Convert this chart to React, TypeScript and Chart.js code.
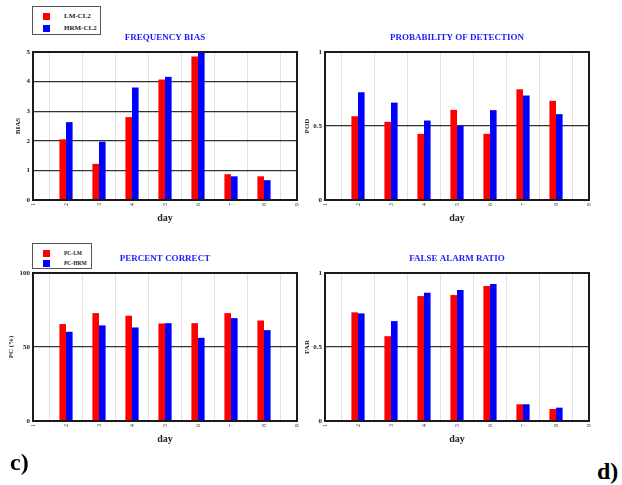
import React, { useEffect, useRef } from 'react';
import { Chart, registerables } from 'chart.js';
Chart.register(...registerables);

const dayTicks = ['1', '2', '3', '4', '5', '6', '7', '8', '9'];
const days = ['2', '3', '4', '5', '6', '7', '8'];
const biasLM = [2.05, 1.22, 2.8, 4.07, 4.85, 0.87, 0.8];
const biasHRM = [2.63, 1.97, 3.8, 4.16, 5.0, 0.8, 0.67];
const podLM = [0.566, 0.528, 0.447, 0.609, 0.447, 0.748, 0.67];
const podHRM = [0.728, 0.658, 0.537, 0.501, 0.607, 0.706, 0.58];
const pcLM = [65.5, 72.9, 71.1, 65.9, 66.1, 72.9, 67.9];
const pcHRM = [60.3, 64.6, 63.2, 66.1, 56.2, 69.5, 61.4];
const farLM = [0.734, 0.573, 0.844, 0.851, 0.912, 0.113, 0.081];
const farHRM = [0.727, 0.675, 0.867, 0.885, 0.926, 0.113, 0.09];

const SERIF = '"Liberation Serif", "DejaVu Serif", serif';
const RED = '#ff0000';
const BLUE = '#0000ff';

type PanelProps = {
  title: string;
  yTitle: string;
  yMax: number;
  yStep: number;
  lm: number[];
  hrm: number[];
  lmLabel: string;
  hrmLabel: string;
  left: number;
  top: number;
  yTitlePad: number;
};

const framePlugin = {
  id: 'frame',
  afterDraw(chart: any) {
    const { ctx, chartArea } = chart;
    ctx.save();
    ctx.strokeStyle = '#1a1a1a';
    ctx.lineWidth = 2;
    ctx.strokeRect(chartArea.left, chartArea.top, chartArea.right - chartArea.left, chartArea.bottom - chartArea.top);
    ctx.restore();
  },
};

function Panel(p: PanelProps) {
  const ref = useRef<HTMLCanvasElement>(null);
  useEffect(() => {
    if (!ref.current) return;
    const chart = new Chart(ref.current, {
      type: 'bar',
      data: {
        labels: dayTicks,
        datasets: [
          {
            label: p.lmLabel,
            data: days.map((d, i) => ({ x: d, y: p.lm[i] })) as any,
            backgroundColor: RED,
            borderWidth: 0,
            categoryPercentage: 0.4,
            barPercentage: 1,
          },
          {
            label: p.hrmLabel,
            data: days.map((d, i) => ({ x: d, y: p.hrm[i] })) as any,
            backgroundColor: BLUE,
            borderWidth: 0,
            categoryPercentage: 0.4,
            barPercentage: 1,
          },
        ],
      },
      options: {
        responsive: false,
        animation: false,
        layout: { padding: { left: 0, right: 3, top: 0, bottom: 0 } },
        plugins: {
          legend: { display: false },
          tooltip: { enabled: false },
          title: {
            display: true,
            text: p.title,
            color: '#1a1aff',
            fullSize: false,
            font: { family: SERIF, size: 9, weight: 'bold', lineHeight: 1 },
            padding: { top: 33, bottom: 10 },
          },
        },
        scales: {
          x: {
            type: 'category',
            offset: false,
            grid: { color: '#e2e2e2', lineWidth: 1, drawTicks: false },
            border: { display: false },
            ticks: {
              minRotation: 90,
              maxRotation: 90,
              autoSkip: false,
              padding: 3,
              color: '#333',
              font: { family: SERIF, size: 6 },
            },
            title: {
              display: true,
              text: 'day',
              color: '#222',
              font: { family: SERIF, size: 10, weight: 'bold', lineHeight: 1 },
              padding: { top: 0, bottom: 7 },
            },
            afterFit: (s: any) => {
              s.height = 30;
              s.paddingLeft = 0;
              s.paddingRight = 0;
            },
          },
          y: {
            min: 0,
            max: p.yMax,
            ticks: {
              stepSize: p.yStep,
              padding: 3,
              color: '#222',
              font: { family: SERIF, size: 7, weight: 'bold' },
              callback: (v: any) => String(v),
            },
            grid: { color: '#333', lineWidth: 1.3, drawTicks: false },
            border: { display: false },
            title: {
              display: true,
              text: p.yTitle,
              color: '#222',
              font: { family: SERIF, size: 7, weight: 'bold', lineHeight: 1 },
              padding: { top: p.yTitlePad, bottom: 0 },
            },
            afterFit: (s: any) => {
              s.width = 33;
              s.paddingTop = 0;
              s.paddingBottom = 0;
            },
          },
        },
      } as any,
      plugins: [framePlugin],
    });
    return () => chart.destroy();
  }, []);
  return (
    <canvas
      ref={ref}
      width={300}
      height={230}
      style={{ position: 'absolute', left: p.left, top: p.top, width: 300, height: 230 }}
    />
  );
}

function LegendBox(props: { left: number; top: number; width: number; height: number; a: string; b: string; fontSize: number; rowGap: number }) {
  const sq = { display: 'inline-block', width: 7, height: 7, marginRight: 0 } as React.CSSProperties;
  const row = (color: string, text: string, top: number) => (
    <div style={{ position: 'absolute', left: 10, top, display: 'flex', alignItems: 'center', height: 8 }}>
      <span style={{ ...sq, background: color }} />
      <span style={{ marginLeft: 14, fontFamily: SERIF, fontSize: props.fontSize, fontWeight: 'bold', color: '#222', whiteSpace: 'nowrap' }}>{text}</span>
    </div>
  );
  return (
    <div
      style={{
        position: 'absolute',
        left: props.left,
        top: props.top,
        width: props.width,
        height: props.height,
        border: '1px solid #555',
        boxSizing: 'border-box',
        background: '#fff',
      }}
    >
      {row(RED, props.a, 5)}
      {row(BLUE, props.b, 5 + props.rowGap)}
    </div>
  );
}

export default function App() {
  return (
    <div style={{ position: 'fixed', left: 0, top: 0, width: 622, height: 485, background: '#fff', overflow: 'hidden' }}>
      <Panel title="FREQUENCY BIAS" yTitle="BIAS" yMax={5} yStep={1} lm={biasLM} hrm={biasHRM} lmLabel="LM-CL2" hrmLabel="HRM-CL2" left={0} top={0} yTitlePad={15} />
      <Panel title="PROBABILITY OF DETECTION" yTitle="POD" yMax={1} yStep={0.5} lm={podLM} hrm={podHRM} lmLabel="LM-CL2" hrmLabel="HRM-CL2" left={292} top={0} yTitlePad={12} />
      <Panel title="PERCENT CORRECT" yTitle="PC (%)" yMax={100} yStep={50} lm={pcLM} hrm={pcHRM} lmLabel="PC-LM" hrmLabel="PC-HRM" left={0} top={221} yTitlePad={8} />
      <Panel title="FALSE ALARM RATIO" yTitle="FAR" yMax={1} yStep={0.5} lm={farLM} hrm={farHRM} lmLabel="PC-LM" hrmLabel="PC-HRM" left={292} top={221} yTitlePad={12} />
      <LegendBox left={32} top={6} width={69} height={29} a="LM-CL2" b="HRM-CL2" fontSize={7} rowGap={12} />
      <LegendBox left={32} top={243} width={60} height={26} a="PC-LM" b="PC-HRM" fontSize={5.5} rowGap={10} />
      <div style={{ position: 'absolute', left: 10, top: 449, fontFamily: SERIF, fontWeight: 'bold', fontSize: 24, color: '#000' }}>c)</div>
      <div style={{ position: 'absolute', left: 597, top: 458, fontFamily: SERIF, fontWeight: 'bold', fontSize: 24, color: '#000' }}>d)</div>
    </div>
  );
}
